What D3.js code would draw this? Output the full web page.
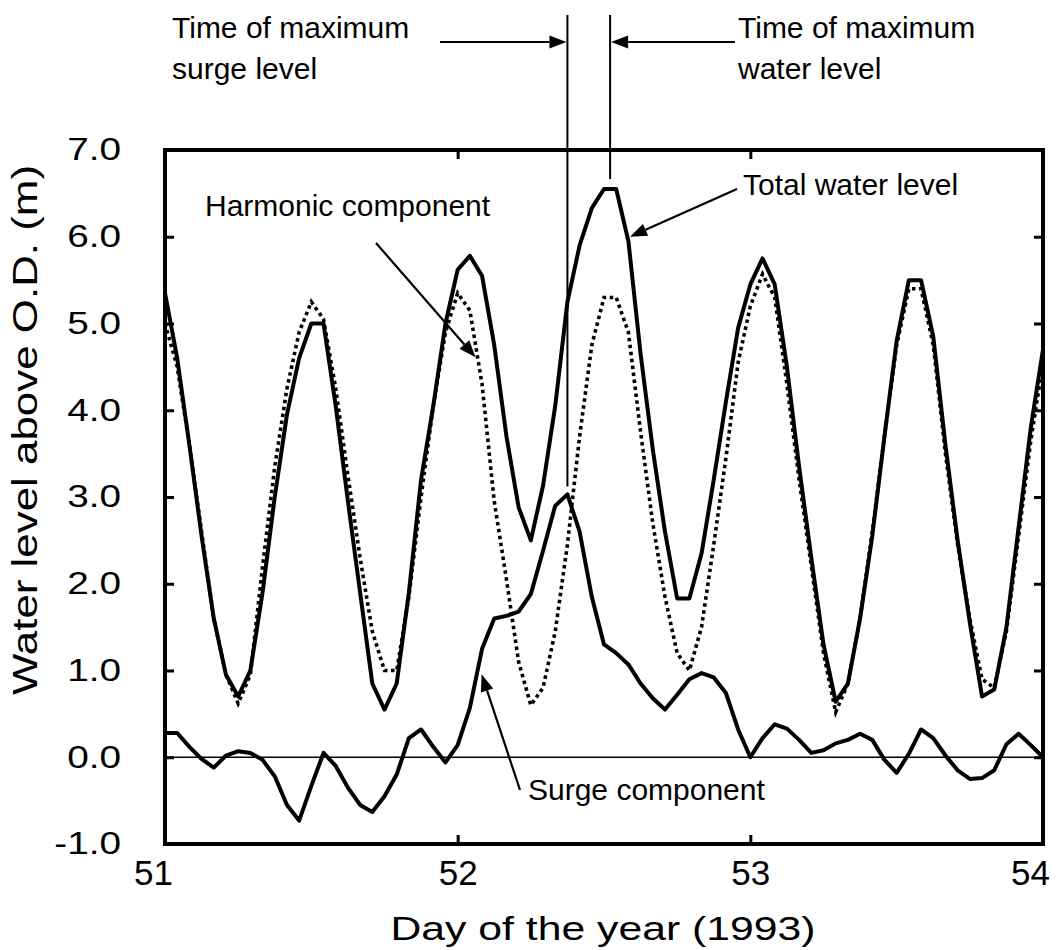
<!DOCTYPE html>
<html>
<head>
<meta charset="utf-8">
<script src="https://cdn.jsdelivr.net/npm/d3@7"></script>
<style>
  html, body { margin: 0; padding: 0; background: #fff; }
  svg { display: block; font-family: "Liberation Sans", Arial, Helvetica, sans-serif; }
</style>
</head>
<body>
<svg id="chart" width="1064" height="950"></svg>
<script>
// Hourly water levels at the gauge, days 51 to 54 of 1993 (metres above O.D.)
const startDay = 51;
const totalLevel = [
  5.35, 4.6, 3.6, 2.55, 1.6, 0.95, 0.7, 1.0, 1.9, 3.0, 3.95, 4.6,
  5.0, 5.0, 4.05, 2.95, 1.9, 0.85, 0.55, 0.85, 1.9, 3.2, 4.05, 5.0,
  5.62, 5.78, 5.55, 4.75, 3.7, 2.88, 2.5, 3.13, 4.05, 5.25, 5.9, 6.33,
  6.55, 6.55, 5.95, 4.65, 3.55, 2.6, 1.83, 1.83, 2.35, 3.2, 4.1, 4.95,
  5.45, 5.75, 5.45, 4.5, 3.35, 2.3, 1.3, 0.64, 0.85, 1.6, 2.55, 3.7,
  4.8, 5.5, 5.5, 4.85, 3.6, 2.5, 1.55, 0.7, 0.78, 1.5, 2.65, 3.8,
  4.7
];
const harmonicLevel = [
  5.0, 4.5, 3.6, 2.6, 1.6, 0.95, 0.62, 0.95, 2.2, 3.35, 4.25, 4.9,
  5.25, 5.05, 4.25, 3.25, 2.3, 1.45, 1.0, 1.0, 1.85, 3.0, 4.05, 4.9,
  5.35, 5.15, 4.3, 2.95, 2.05, 1.1, 0.6, 0.8, 1.45, 2.45, 3.7, 4.75,
  5.3, 5.3, 4.9, 3.75, 2.7, 1.85, 1.2, 1.0, 1.5, 2.45, 3.45, 4.55,
  5.2, 5.57, 5.3, 4.3, 3.2, 2.2, 1.2, 0.52, 0.85, 1.6, 2.6, 3.7,
  4.75, 5.4, 5.4, 4.75, 3.5, 2.45, 1.6, 0.9, 0.8, 1.45, 2.55, 3.65,
  4.55
];
const surgeLevel = [
  0.28, 0.28, 0.12, -0.02, -0.12, 0.02, 0.07, 0.05, -0.03, -0.22, -0.55, -0.73,
  -0.33, 0.05, -0.1, -0.35, -0.55, -0.63, -0.45, -0.2, 0.22, 0.32, 0.12, -0.06,
  0.14, 0.57, 1.25, 1.6, 1.63, 1.68, 1.88, 2.38, 2.9, 3.03, 2.6, 1.85,
  1.3, 1.2, 1.07, 0.85, 0.68, 0.55, 0.72, 0.9, 0.97, 0.92, 0.74, 0.32,
  0.0, 0.22, 0.38, 0.33, 0.2, 0.05, 0.08, 0.16, 0.2, 0.27, 0.2, -0.03,
  -0.18, 0.04, 0.32, 0.22, 0.02, -0.15, -0.25, -0.24, -0.15, 0.15, 0.27, 0.14,
  0.0
];
const xTickValues = [51, 52, 53, 54];
const yTickValues = [-1, 0, 1, 2, 3, 4, 5, 6, 7];
const xTitle = "Day of the year (1993)";
const yTitle = "Water level above O.D. (m)";

const dayOf = i => startDay + i / 24;

const svg = d3.select("#chart");
const plot = { left: 165, right: 1043, top: 150, bottom: 844 };

const x = d3.scaleLinear().domain([51, 54]).range([plot.left, plot.right]);
const y = d3.scaleLinear().domain([-1, 7]).range([plot.bottom, plot.top]);

const FONT = "'Liberation Sans', Arial, Helvetica, sans-serif";

// stretch a text element horizontally by a factor (wide lettering of the axes)
function widen(sel, factor) {
  sel.each(function () {
    const w = this.getComputedTextLength();
    d3.select(this).attr("textLength", w * factor).attr("lengthAdjust", "spacingAndGlyphs");
  });
}

// ---- axes: inward ticks on all four sides ----
const tickLen = 9;
const gLeft = svg.append("g").attr("transform", `translate(${plot.left},0)`)
  .call(d3.axisLeft(y).tickValues(yTickValues).tickSize(-tickLen).tickPadding(44)
    .tickFormat(d => d.toFixed(1)));
const gRight = svg.append("g").attr("transform", `translate(${plot.right},0)`)
  .call(d3.axisRight(y).tickValues(yTickValues).tickSize(-tickLen).tickFormat(""));
const gBottom = svg.append("g").attr("transform", `translate(0,${plot.bottom})`)
  .call(d3.axisBottom(x).tickValues(xTickValues).tickSize(-tickLen).tickPadding(16)
    .tickFormat(d3.format("d")));
const gTop = svg.append("g").attr("transform", `translate(0,${plot.top})`)
  .call(d3.axisTop(x).tickValues(xTickValues).tickSize(-tickLen).tickFormat(""));

[gLeft, gRight, gBottom, gTop].forEach(g => {
  g.select(".domain").remove();
  g.selectAll(".tick line").attr("stroke", "#000").attr("stroke-width", 3);
});
gLeft.selectAll(".tick text")
  .attr("font-family", FONT).attr("font-size", 31).attr("fill", "#000")
  .call(widen, 1.25);
gBottom.selectAll(".tick text")
  .attr("font-family", FONT).attr("font-size", 35).attr("fill", "#000")
  .attr("dx", d => d === 51 ? -12 : (d === 54 ? -13 : 0));

// zero reference line for the surge
svg.append("line")
  .attr("x1", x(51)).attr("x2", x(54))
  .attr("y1", y(0)).attr("y2", y(0))
  .attr("stroke", "#000").attr("stroke-width", 1.6);

// ---- series ----
const line = d3.line().x((d, i) => x(dayOf(i))).y(d => y(d));

svg.append("path").datum(harmonicLevel)
  .attr("d", line).attr("fill", "none").attr("stroke", "#000")
  .attr("stroke-width", 3.6).attr("stroke-dasharray", "3.5,3.5");

svg.append("path").datum(surgeLevel)
  .attr("d", line).attr("fill", "none").attr("stroke", "#000")
  .attr("stroke-width", 4).attr("stroke-linejoin", "round");

svg.append("path").datum(totalLevel)
  .attr("d", line).attr("fill", "none").attr("stroke", "#000")
  .attr("stroke-width", 4).attr("stroke-linejoin", "round");

// frame
svg.append("rect")
  .attr("x", plot.left).attr("y", plot.top)
  .attr("width", plot.right - plot.left).attr("height", plot.bottom - plot.top)
  .attr("fill", "none").attr("stroke", "#000").attr("stroke-width", 4);

// ---- axis titles ----
svg.append("text")
  .attr("x", 603).attr("y", 940)
  .attr("text-anchor", "middle").attr("font-family", FONT).attr("font-size", 33)
  .attr("textLength", 425).attr("lengthAdjust", "spacingAndGlyphs")
  .text(xTitle);
svg.append("text")
  .attr("transform", "translate(37,430) rotate(-90)")
  .attr("text-anchor", "middle").attr("font-family", FONT).attr("font-size", 35)
  .attr("textLength", 530).attr("lengthAdjust", "spacingAndGlyphs")
  .text(yTitle);

// ---- timing markers: peak surge and peak total level ----
const surgeMax = d3.max(surgeLevel);
const surgeIdx = d3.range(surgeLevel.length).filter(i => surgeLevel[i] === surgeMax);
const totalMax = d3.max(totalLevel);
const totalIdx = d3.range(totalLevel.length).filter(i => totalLevel[i] === totalMax);
const surgePeakX = x(dayOf(d3.mean(surgeIdx)));
const totalPeakX = x(dayOf(d3.mean(totalIdx)));

svg.append("line")
  .attr("x1", surgePeakX).attr("x2", surgePeakX)
  .attr("y1", 15).attr("y2", y(surgeMax) - 8)
  .attr("stroke", "#000").attr("stroke-width", 2);
svg.append("line")
  .attr("x1", totalPeakX).attr("x2", totalPeakX)
  .attr("y1", 15).attr("y2", y(totalMax) - 10)
  .attr("stroke", "#000").attr("stroke-width", 2);

// arrow helper: shaft from (x1,y1) to the tip (x2,y2) with a filled head
function arrow(x1, y1, x2, y2, headLen = 17, headHalf = 6.5, width = 2.2) {
  const ang = Math.atan2(y2 - y1, x2 - x1);
  const bx = x2 - headLen * Math.cos(ang), by = y2 - headLen * Math.sin(ang);
  svg.append("line")
    .attr("x1", x1).attr("y1", y1).attr("x2", bx).attr("y2", by)
    .attr("stroke", "#000").attr("stroke-width", width);
  const px = -Math.sin(ang) * headHalf, py = Math.cos(ang) * headHalf;
  svg.append("path")
    .attr("d", `M${x2},${y2}L${bx + px},${by + py}L${bx - px},${by - py}Z`)
    .attr("fill", "#000");
}

function label(lines, x0, y0, dy) {
  lines.forEach((t, k) => {
    svg.append("text").attr("x", x0).attr("y", y0 + k * dy)
      .attr("font-family", FONT).attr("font-size", 30).attr("fill", "#000").text(t);
  });
}

label(["Time of maximum", "surge level"], 172, 38, 41);
arrow(440, 42, surgePeakX - 1, 42);
label(["Time of maximum", "water level"], 738, 38, 41);
arrow(735, 42, totalPeakX + 1, 42);

// series annotations, arrow tips placed on the curves (day, level)
label(["Harmonic component"], 205, 216, 0);
arrow(376, 243, x(52.061), y(4.61));

label(["Total water level"], 743, 195, 0);
arrow(737, 189, x(52.589), y(6.0));

label(["Surge component"], 528, 800, 0);
arrow(520, 790, x(52.082), y(0.956));
</script>
</body>
</html>
